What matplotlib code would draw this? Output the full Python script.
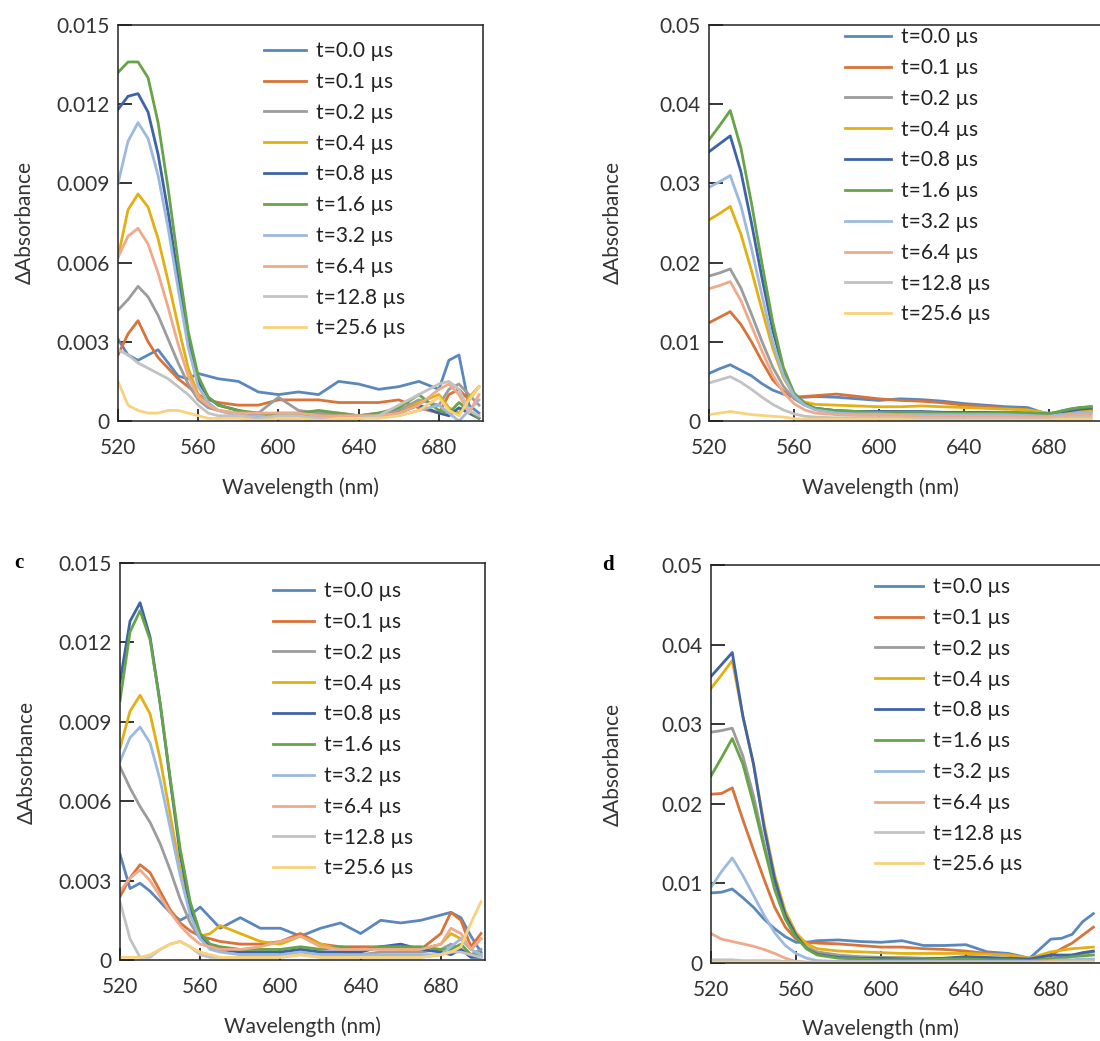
import matplotlib
matplotlib.use("Agg")
import matplotlib.pyplot as plt
from matplotlib.ticker import FuncFormatter

plt.rcParams['font.family'] = ['Lato', 'DejaVu Sans']

# wavelength grid (nm), shared by all four panels
wavelength = [520, 525, 530, 535, 540, 545, 550, 555, 560, 565, 570, 580, 590,
              600, 610, 620, 630, 640, 650, 660, 670, 680, 685, 690, 695, 700]

labels = ['t=0.0 µs', 't=0.1 µs', 't=0.2 µs', 't=0.4 µs', 't=0.8 µs',
          't=1.6 µs', 't=3.2 µs', 't=6.4 µs', 't=12.8 µs', 't=25.6 µs']

colors = ['#5A88BC', '#D8733A', '#9C9C9C', '#E3B012', '#3E63A8',
          '#67A347', '#9CB9DE', '#F0AA8B', '#C2C2C2', '#F8D27C']

# panel a
a_t00 = [0.0031, 0.0025, 0.0023, 0.0025, 0.0027, 0.0022, 0.0017, 0.0016, 0.0018, 0.0017, 0.0016, 0.0015, 0.0011,
         0.0010, 0.0011, 0.0010, 0.0015, 0.0014, 0.0012, 0.0013, 0.0015, 0.0012, 0.0023, 0.0025, 0.0006, 0.0003]
a_t01 = [0.0025, 0.0033, 0.0038, 0.0030, 0.0024, 0.0020, 0.0016, 0.0013, 0.0010, 0.0008, 0.0007, 0.0006, 0.0006,
         0.0008, 0.0008, 0.0008, 0.0007, 0.0007, 0.0007, 0.0008, 0.0005, 0.0003, 0.0010, 0.0012, 0.0008, 0.0013]
a_t02 = [0.0042, 0.0046, 0.0051, 0.0047, 0.0040, 0.0031, 0.0022, 0.0014, 0.0008, 0.0005, 0.0004, 0.0003, 0.0003,
         0.0009, 0.0004, 0.0003, 0.0003, 0.0002, 0.0003, 0.0004, 0.0008, 0.0006, 0.0012, 0.0014, 0.0010, 0.0006]
a_t04 = [0.0062, 0.0080, 0.0086, 0.0081, 0.0069, 0.0053, 0.0036, 0.0020, 0.0010, 0.0006, 0.0004, 0.0002, 0.0002,
         0.0003, 0.0003, 0.0002, 0.0002, 0.0001, 0.0002, 0.0003, 0.0007, 0.0010, 0.0005, 0.0003, 0.0009, 0.0013]
a_t08 = [0.0118, 0.0123, 0.0124, 0.0117, 0.0101, 0.0079, 0.0054, 0.0030, 0.0015, 0.0009, 0.0006, 0.0004, 0.0002,
         0.0001, 0.0002, 0.0002, 0.0002, 0.0001, 0.0002, 0.0003, 0.0006, 0.0003, 0.0002, 0.0005, 0.0003, 0.0001]
a_t16 = [0.0132, 0.0136, 0.0136, 0.0130, 0.0113, 0.0088, 0.0060, 0.0034, 0.0017, 0.0009, 0.0006, 0.0004, 0.0003,
         0.0002, 0.0003, 0.0004, 0.0003, 0.0002, 0.0003, 0.0005, 0.0010, 0.0004, 0.0003, 0.0007, 0.0004, 0.0001]
a_t32 = [0.0090, 0.0106, 0.0113, 0.0107, 0.0093, 0.0073, 0.0050, 0.0028, 0.0013, 0.0007, 0.0004, 0.0002, 0.0002,
         0.0001, 0.0001, 0.0002, 0.0001, 0.0001, 0.0002, 0.0002, 0.0004, 0.0006, 0.0003, 0.0000, 0.0004, 0.0008]
a_t64 = [0.0062, 0.0070, 0.0073, 0.0067, 0.0056, 0.0043, 0.0029, 0.0017, 0.0009, 0.0006, 0.0004, 0.0003, 0.0003,
         0.0003, 0.0003, 0.0002, 0.0002, 0.0002, 0.0002, 0.0003, 0.0006, 0.0012, 0.0014, 0.0010, 0.0003, 0.0010]
a_t128 = [0.0027, 0.0025, 0.0022, 0.0020, 0.0018, 0.0016, 0.0013, 0.0010, 0.0006, 0.0003, 0.0002, 0.0002, 0.0001,
          0.0002, 0.0002, 0.0001, 0.0001, 0.0001, 0.0002, 0.0006, 0.0010, 0.0014, 0.0015, 0.0012, 0.0004, 0.0002]
a_t256 = [0.0015, 0.0006, 0.0004, 0.0003, 0.0003, 0.0004, 0.0004, 0.0003, 0.0002, 0.0001, 0.0001, 0.0001, 0.0000,
          0.0001, 0.0001, 0.0000, 0.0001, 0.0001, 0.0001, 0.0002, 0.0004, 0.0009, 0.0004, 0.0002, 0.0008, 0.0013]

# panel b
b_t00 = [0.0060, 0.0066, 0.0071, 0.0064, 0.0057, 0.0047, 0.0039, 0.0034, 0.0030, 0.0030, 0.0031, 0.0030, 0.0028,
         0.0026, 0.0028, 0.0027, 0.0025, 0.0022, 0.0020, 0.0018, 0.0017, 0.0008, 0.0012, 0.0015, 0.0017, 0.0018]
b_t01 = [0.0124, 0.0131, 0.0138, 0.0122, 0.0100, 0.0075, 0.0052, 0.0038, 0.0030, 0.0031, 0.0032, 0.0034, 0.0031,
         0.0028, 0.0026, 0.0025, 0.0023, 0.0020, 0.0018, 0.0016, 0.0014, 0.0009, 0.0010, 0.0012, 0.0013, 0.0014]
b_t02 = [0.0183, 0.0187, 0.0192, 0.0168, 0.0135, 0.0100, 0.0068, 0.0044, 0.0028, 0.0020, 0.0016, 0.0013, 0.0012,
         0.0012, 0.0011, 0.0011, 0.0010, 0.0010, 0.0009, 0.0009, 0.0008, 0.0006, 0.0008, 0.0009, 0.0010, 0.0011]
b_t04 = [0.0254, 0.0262, 0.0271, 0.0236, 0.0190, 0.0140, 0.0092, 0.0055, 0.0032, 0.0024, 0.0021, 0.0020, 0.0019,
         0.0018, 0.0018, 0.0019, 0.0018, 0.0017, 0.0016, 0.0015, 0.0014, 0.0010, 0.0011, 0.0012, 0.0013, 0.0014]
b_t08 = [0.0340, 0.0350, 0.0360, 0.0315, 0.0250, 0.0180, 0.0115, 0.0065, 0.0035, 0.0022, 0.0016, 0.0013, 0.0012,
         0.0012, 0.0012, 0.0012, 0.0011, 0.0011, 0.0011, 0.0011, 0.0010, 0.0009, 0.0011, 0.0013, 0.0015, 0.0016]
b_t16 = [0.0355, 0.0373, 0.0392, 0.0345, 0.0275, 0.0198, 0.0125, 0.0068, 0.0035, 0.0022, 0.0016, 0.0013, 0.0012,
         0.0011, 0.0011, 0.0011, 0.0010, 0.0010, 0.0010, 0.0011, 0.0010, 0.0009, 0.0012, 0.0015, 0.0017, 0.0018]
b_t32 = [0.0295, 0.0302, 0.0310, 0.0272, 0.0218, 0.0158, 0.0100, 0.0058, 0.0032, 0.0020, 0.0014, 0.0010, 0.0009,
         0.0009, 0.0008, 0.0008, 0.0008, 0.0008, 0.0008, 0.0008, 0.0007, 0.0006, 0.0008, 0.0009, 0.0010, 0.0011]
b_t64 = [0.0167, 0.0171, 0.0176, 0.0152, 0.0120, 0.0088, 0.0058, 0.0036, 0.0022, 0.0014, 0.0010, 0.0008, 0.0007,
         0.0007, 0.0007, 0.0006, 0.0006, 0.0006, 0.0006, 0.0006, 0.0005, 0.0005, 0.0006, 0.0007, 0.0008, 0.0008]
b_t128 = [0.0048, 0.0052, 0.0056, 0.0049, 0.0040, 0.0030, 0.0021, 0.0014, 0.0009, 0.0006, 0.0005, 0.0004, 0.0004,
          0.0004, 0.0004, 0.0003, 0.0003, 0.0003, 0.0003, 0.0003, 0.0003, 0.0003, 0.0004, 0.0004, 0.0005, 0.0005]
b_t256 = [0.0008, 0.0010, 0.0012, 0.0010, 0.0008, 0.0007, 0.0006, 0.0005, 0.0003, 0.0002, 0.0002, 0.0002, 0.0002,
          0.0002, 0.0002, 0.0001, 0.0001, 0.0001, 0.0001, 0.0001, 0.0001, 0.0001, 0.0002, 0.0002, 0.0002, 0.0002]

# panel c
c_t00 = [0.0040, 0.0027, 0.0029, 0.0026, 0.0022, 0.0018, 0.0015, 0.0017, 0.0020, 0.0016, 0.0012, 0.0016, 0.0012,
         0.0012, 0.0009, 0.0012, 0.0014, 0.0010, 0.0015, 0.0014, 0.0015, 0.0017, 0.0018, 0.0016, 0.0009, 0.0003]
c_t01 = [0.0024, 0.0031, 0.0036, 0.0033, 0.0026, 0.0019, 0.0014, 0.0011, 0.0009, 0.0008, 0.0007, 0.0006, 0.0006,
         0.0007, 0.0010, 0.0006, 0.0005, 0.0005, 0.0005, 0.0005, 0.0004, 0.0010, 0.0018, 0.0015, 0.0005, 0.0010]
c_t02 = [0.0073, 0.0065, 0.0058, 0.0052, 0.0044, 0.0034, 0.0023, 0.0014, 0.0008, 0.0005, 0.0004, 0.0003, 0.0003,
         0.0003, 0.0004, 0.0003, 0.0003, 0.0002, 0.0003, 0.0003, 0.0003, 0.0004, 0.0006, 0.0004, 0.0002, 0.0004]
c_t04 = [0.0080, 0.0094, 0.0100, 0.0093, 0.0076, 0.0055, 0.0034, 0.0018, 0.0009, 0.0010, 0.0013, 0.0010, 0.0007,
         0.0006, 0.0009, 0.0006, 0.0004, 0.0004, 0.0005, 0.0004, 0.0004, 0.0006, 0.0010, 0.0008, 0.0004, 0.0008]
c_t08 = [0.0105, 0.0128, 0.0135, 0.0122, 0.0097, 0.0068, 0.0040, 0.0020, 0.0009, 0.0005, 0.0004, 0.0003, 0.0003,
         0.0003, 0.0004, 0.0003, 0.0003, 0.0003, 0.0005, 0.0006, 0.0004, 0.0003, 0.0002, 0.0004, 0.0001, 0.0001]
c_t16 = [0.0098, 0.0124, 0.0132, 0.0121, 0.0097, 0.0069, 0.0042, 0.0022, 0.0010, 0.0006, 0.0005, 0.0004, 0.0004,
         0.0004, 0.0005, 0.0004, 0.0005, 0.0004, 0.0005, 0.0005, 0.0005, 0.0004, 0.0004, 0.0006, 0.0002, 0.0002]
c_t32 = [0.0075, 0.0084, 0.0088, 0.0082, 0.0068, 0.0050, 0.0032, 0.0017, 0.0008, 0.0004, 0.0003, 0.0002, 0.0002,
         0.0002, 0.0003, 0.0002, 0.0002, 0.0002, 0.0002, 0.0002, 0.0002, 0.0002, 0.0005, 0.0008, 0.0004, 0.0002]
c_t64 = [0.0026, 0.0031, 0.0034, 0.0030, 0.0024, 0.0018, 0.0013, 0.0009, 0.0006, 0.0005, 0.0004, 0.0004, 0.0005,
         0.0007, 0.0009, 0.0005, 0.0004, 0.0004, 0.0004, 0.0004, 0.0004, 0.0006, 0.0012, 0.0010, 0.0004, 0.0008]
c_t128 = [0.0022, 0.0008, 0.0001, 0.0001, 0.0004, 0.0006, 0.0007, 0.0005, 0.0002, 0.0001, 0.0001, 0.0001, 0.0001,
          0.0001, 0.0002, 0.0001, 0.0001, 0.0001, 0.0001, 0.0001, 0.0001, 0.0002, 0.0003, 0.0003, 0.0002, 0.0001]
c_t256 = [0.0001, 0.0001, 0.0001, 0.0002, 0.0004, 0.0006, 0.0007, 0.0005, 0.0003, 0.0002, 0.0001, 0.0001, 0.0001,
          0.0001, 0.0002, 0.0001, 0.0001, 0.0001, 0.0001, 0.0001, 0.0001, 0.0002, 0.0003, 0.0005, 0.0014, 0.0022]

# panel d
d_t00 = [0.0088, 0.0089, 0.0093, 0.0082, 0.0070, 0.0055, 0.0043, 0.0033, 0.0026, 0.0026, 0.0028, 0.0029, 0.0027,
         0.0026, 0.0028, 0.0022, 0.0022, 0.0023, 0.0014, 0.0012, 0.0006, 0.0030, 0.0031, 0.0036, 0.0052, 0.0062]
d_t01 = [0.0212, 0.0213, 0.0220, 0.0180, 0.0142, 0.0105, 0.0070, 0.0045, 0.0030, 0.0026, 0.0025, 0.0024, 0.0022,
         0.0020, 0.0020, 0.0018, 0.0017, 0.0015, 0.0012, 0.0010, 0.0005, 0.0010, 0.0018, 0.0025, 0.0035, 0.0045]
d_t02 = [0.0290, 0.0292, 0.0295, 0.0260, 0.0210, 0.0150, 0.0095, 0.0057, 0.0033, 0.0020, 0.0014, 0.0010, 0.0008,
         0.0007, 0.0007, 0.0006, 0.0006, 0.0006, 0.0005, 0.0005, 0.0004, 0.0006, 0.0008, 0.0010, 0.0012, 0.0014]
d_t04 = [0.0345, 0.0362, 0.0380, 0.0310, 0.0250, 0.0175, 0.0110, 0.0065, 0.0038, 0.0024, 0.0018, 0.0015, 0.0014,
         0.0013, 0.0012, 0.0012, 0.0012, 0.0012, 0.0011, 0.0010, 0.0006, 0.0014, 0.0016, 0.0018, 0.0019, 0.0020]
d_t08 = [0.0360, 0.0375, 0.0390, 0.0310, 0.0250, 0.0170, 0.0105, 0.0060, 0.0035, 0.0018, 0.0011, 0.0007, 0.0006,
         0.0006, 0.0005, 0.0005, 0.0006, 0.0008, 0.0007, 0.0006, 0.0005, 0.0010, 0.0010, 0.0010, 0.0013, 0.0015]
d_t16 = [0.0235, 0.0258, 0.0282, 0.0250, 0.0200, 0.0145, 0.0092, 0.0055, 0.0032, 0.0018, 0.0010, 0.0006, 0.0005,
         0.0004, 0.0004, 0.0004, 0.0005, 0.0005, 0.0004, 0.0004, 0.0003, 0.0005, 0.0006, 0.0008, 0.0009, 0.0010]
d_t32 = [0.0095, 0.0115, 0.0132, 0.0110, 0.0085, 0.0060, 0.0038, 0.0022, 0.0012, 0.0006, 0.0003, 0.0002, 0.0002,
         0.0002, 0.0002, 0.0002, 0.0002, 0.0002, 0.0002, 0.0002, 0.0002, 0.0003, 0.0004, 0.0004, 0.0005, 0.0005]
d_t64 = [0.0037, 0.0030, 0.0027, 0.0024, 0.0021, 0.0017, 0.0012, 0.0006, 0.0002, 0.0001, 0.0001, 0.0001, 0.0001,
         0.0001, 0.0001, 0.0001, 0.0001, 0.0001, 0.0001, 0.0001, 0.0001, 0.0002, 0.0002, 0.0002, 0.0003, 0.0003]
d_t128 = [0.0004, 0.0004, 0.0004, 0.0003, 0.0003, 0.0003, 0.0003, 0.0002, 0.0002, 0.0001, 0.0001, 0.0001, 0.0001,
          0.0001, 0.0001, 0.0001, 0.0001, 0.0001, 0.0001, 0.0001, 0.0001, 0.0001, 0.0002, 0.0002, 0.0002, 0.0002]
d_t256 = [0.0001, 0.0001, 0.0001, 0.0001, 0.0001, 0.0001, 0.0001, 0.0001, 0.0001, 0.0000, 0.0000, 0.0000, 0.0000,
          0.0000, 0.0000, 0.0000, 0.0000, 0.0000, 0.0000, 0.0000, 0.0000, 0.0001, 0.0001, 0.0001, 0.0001, 0.0001]

panels = [
    dict(series=[a_t00, a_t01, a_t02, a_t04, a_t08, a_t16, a_t32, a_t64, a_t128, a_t256],
         rect=[118, 25, 483, 421], xlim=(520, 702), ymax=0.015, ystep=0.003, fmt='{:.3f}',
         leg=(264, 41), hl=2.0, letter=None, xlab=(301, 488), ylab=(25, 223)),
    dict(series=[b_t00, b_t01, b_t02, b_t04, b_t08, b_t16, b_t32, b_t64, b_t128, b_t256],
         rect=[709, 25, 1104, 421], xlim=(520, 706), ymax=0.05, ystep=0.01, fmt='{:.2f}',
         leg=(845, 27), hl=2.2, letter=None, xlab=(880, 488), ylab=(613, 223)),
    dict(series=[c_t00, c_t01, c_t02, c_t04, c_t08, c_t16, c_t32, c_t64, c_t128, c_t256],
         rect=[120, 563, 485, 960], xlim=(520, 702), ymax=0.015, ystep=0.003, fmt='{:.3f}',
         leg=(273, 581), hl=1.95, letter=('c', 14, 563), xlab=(303, 1027), ylab=(27, 762)),
    dict(series=[d_t00, d_t01, d_t02, d_t04, d_t08, d_t16, d_t32, d_t64, d_t128, d_t256],
         rect=[711, 565, 1104, 963], xlim=(520, 705), ymax=0.05, ystep=0.01, fmt='{:.2f}',
         leg=(875, 577), hl=2.3, letter=('d', 602, 565), xlab=(880, 1029), ylab=(613, 765)),
]

W, H = 1100, 1041
FS = 15
fig = plt.figure(figsize=(W / 100, H / 100), dpi=100)

for p in panels:
    x0, y0, x1, y1 = p['rect']
    ax = fig.add_axes([x0 / W, 1 - y1 / H, (x1 - x0) / W, (y1 - y0) / H])
    for ys, lab, col in zip(p['series'], labels, colors):
        ax.plot(wavelength, ys, color=col, lw=2.0, label=lab, solid_joinstyle='round')
    ax.set_xlim(*p['xlim'])
    ax.set_ylim(0, p['ymax'])
    ax.set_xticks([520, 560, 600, 640, 680])
    nticks = int(round(p['ymax'] / p['ystep']))
    ax.set_yticks([i * p['ystep'] for i in range(nticks + 1)])
    fmt = p['fmt']
    ax.yaxis.set_major_formatter(FuncFormatter(lambda v, pos, f=fmt: '0' if abs(v) < 1e-9 else f.format(v)))
    ax.tick_params(axis='y', direction='in', length=10, width=1.1, pad=6, labelsize=FS, colors='black')
    ax.tick_params(axis='x', direction='in', length=9, width=1.1, pad=12, labelsize=FS, colors='black')
    ax.tick_params(labelcolor='#333333')
    for s in ax.spines.values():
        s.set_linewidth(1.1)
        s.set_color('#222222')

    ax.set_xlabel('Wavelength (nm)', fontsize=FS, color='#333333')
    ax.set_ylabel('ΔAbsorbance', fontsize=FS, color='#333333')
    xl, yl = p['xlab']
    ax.xaxis.set_label_coords((xl - x0) / (x1 - x0), -(yl - y1) / (y1 - y0))
    xl, yl = p['ylab']
    ax.yaxis.set_label_coords((xl - x0) / (x1 - x0), (y1 - yl) / (y1 - y0))
    ax.xaxis.label.set_va('center')
    ax.yaxis.label.set_va('center')

    lx, ly = p['leg']
    ax.legend(loc='upper left', bbox_to_anchor=(lx / W, 1 - ly / H), bbox_transform=fig.transFigure,
              frameon=False, borderpad=0, borderaxespad=0, fontsize=FS, handlelength=p['hl'],
              handletextpad=0.5, labelspacing=0.52, labelcolor='#222222')

    if p['letter']:
        t, tx, ty = p['letter']
        fig.text(tx / W, 1 - ty / H, t, fontsize=15, fontweight='bold', family='Liberation Serif',
                 ha='left', va='center')

fig.savefig('out.png', dpi=100, facecolor='white')
